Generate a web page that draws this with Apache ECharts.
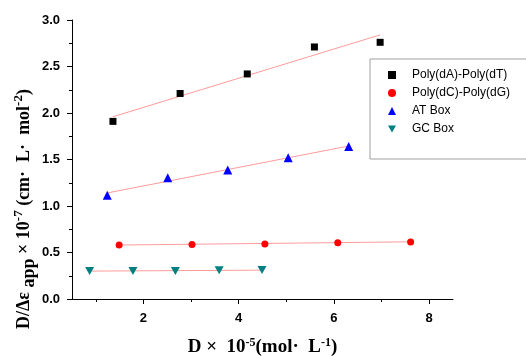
<!DOCTYPE html>
<html><head><meta charset="utf-8">
<script src="https://cdn.jsdelivr.net/npm/echarts@6/dist/echarts.min.js"></script>
<style>html,body{margin:0;padding:0;background:#fff}#c{width:526px;height:356px}</style>
</head><body><div id="c"></div>
<script>
var seriesNames = ['Poly(dA)-Poly(dT)', 'Poly(dC)-Poly(dG)', 'AT Box', 'GC Box'];
var dAdT_x = [1.36, 2.77, 4.18, 5.59, 6.97];
var dAdT_y = [1.91, 2.21, 2.42, 2.71, 2.76];
var dCdG_x = [1.49, 3.02, 4.55, 6.08, 7.61];
var dCdG_y = [0.58, 0.585, 0.592, 0.605, 0.613];
var AT_x = [1.24, 2.51, 3.77, 5.04, 6.31];
var AT_y = [1.115, 1.305, 1.387, 1.52, 1.64];
var GC_x = [0.87, 1.78, 2.67, 3.59, 4.49];
var GC_y = [0.30, 0.30, 0.302, 0.31, 0.313];
// fitted lines (start/end)
var fit_dAdT = [[1.36, 1.96], [6.97, 2.84]];
var fit_dCdG = [[1.49, 0.58], [7.61, 0.615]];
var fit_AT = [[1.24, 1.14], [6.31, 1.645]];
var fit_GC = [[0.87, 0.30], [4.49, 0.31]];
var xTicks = [2, 4, 6, 8];
var xMinorTicks = [1, 3, 5, 7];
var yTicks = [0.0, 0.5, 1.0, 1.5, 2.0, 2.5, 3.0];

function zip(xs, ys) { return xs.map(function (x, i) { return [x, ys[i]]; }); }
var downTri = 'path://M0,0 L10,0 L5,9 Z';
var fitColor = '#ff9a9a';
function fitSeries(d) {
  return { type: 'line', data: d, symbol: 'none', silent: true, z: 1,
    lineStyle: { color: fitColor, width: 1 } };
}
var chart = echarts.init(document.getElementById('c'));
chart.setOption({
  animation: false,
  grid: { left: 72, right: 73, top: 20, bottom: 57, containLabel: false, outerBoundsMode: 'none' },
  xAxis: [{
    type: 'value', min: 0.5, max: 8.5,
    axisLine: { lineStyle: { color: '#000', width: 1 } },
    axisTick: { show: true, inside: false, length: 5, lineStyle: { color: '#000' },
      customValues: xTicks },
    splitLine: { show: false },
    axisLabel: { color: '#000', fontFamily: 'Liberation Sans', fontWeight: 'bold', fontSize: 13,
      margin: 13, customValues: xTicks, formatter: function (v) { return String(v); } },
    name: '{b|D ×  10}{s|-5}{b|(mol·  L}{s|-1}{b|)}',
    nameLocation: 'middle', nameGap: 38,
    nameTextStyle: { rich: {
      b: { fontFamily: 'Liberation Serif', fontWeight: 'bold', fontSize: 19, color: '#000' },
      s: { fontFamily: 'Liberation Serif', fontWeight: 'bold', fontSize: 12, color: '#000', padding: [0, 0, 9, 0] }
    } }
  }, {
    type: 'value', min: 0.5, max: 8.5, position: 'bottom',
    axisLine: { show: false },
    axisTick: { show: true, inside: false, length: 3, lineStyle: { color: '#000' },
      customValues: xMinorTicks },
    axisLabel: { show: false },
    splitLine: { show: false }
  }],
  yAxis: {
    type: 'value', min: 0, max: 3, interval: 0.5,
    axisLine: { show: true, lineStyle: { color: '#000', width: 1 } },
    axisTick: { show: true, inside: false, length: 5, lineStyle: { color: '#000' } },
    minorTick: { show: true, splitNumber: 2, length: 3, lineStyle: { color: '#000' } },
    splitLine: { show: false },
    axisLabel: { color: '#000', fontFamily: 'Liberation Sans', fontWeight: 'bold', fontSize: 13,
      margin: 12, customValues: yTicks, formatter: function (v) { return v.toFixed(1); } }
  },
  legend: {
    data: seriesNames.map(function (n, i) {
      return { name: n, icon: ['rect', 'circle', 'triangle', downTri][i] };
    }),
    orient: 'vertical', left: 370, top: 59,
    itemWidth: 8, itemHeight: 8, itemGap: 6,
    padding: [10, 40, 24, 18],
    borderColor: '#a0a0a0', borderWidth: 1, borderRadius: 0,
    textStyle: { fontFamily: 'Liberation Sans', fontSize: 12, color: '#000', padding: [0, 0, 0, 11] }
  },
  graphic: [{
    type: 'text', x: 24, y: 209, rotation: Math.PI / 2,
    style: {
      text: '{b|D/Δε }{sub|app}{b| × 10}{sup|-7}{b| (cm·  L·  mol}{sup|-2}{b|)}',
      align: 'center', verticalAlign: 'middle',
      rich: {
        b: { fontFamily: 'Liberation Serif', fontWeight: 'bold', fontSize: 18, fill: '#000' },
        sub: { fontFamily: 'Liberation Serif', fontWeight: 'bold', fontSize: 18, fill: '#000', padding: [10, 0, 0, 0] },
        sup: { fontFamily: 'Liberation Serif', fontWeight: 'bold', fontSize: 13, fill: '#000', padding: [0, 0, 10, 0] }
      }
    }
  }],
  series: [
    { name: seriesNames[0], type: 'scatter', data: zip(dAdT_x, dAdT_y), symbol: 'rect', symbolSize: 7, itemStyle: { color: '#000', opacity: 1 }, z: 3 },
    { name: seriesNames[1], type: 'scatter', data: zip(dCdG_x, dCdG_y), symbol: 'circle', symbolSize: 7, itemStyle: { color: '#ff0000', opacity: 1 }, z: 3 },
    { name: seriesNames[2], type: 'scatter', data: zip(AT_x, AT_y), symbol: 'triangle', symbolSize: 9, itemStyle: { color: '#0000ff', opacity: 1 }, z: 3 },
    { name: seriesNames[3], type: 'scatter', data: zip(GC_x, GC_y), symbol: downTri, symbolSize: [9, 8], itemStyle: { color: '#008080', opacity: 1 }, z: 3 },
    fitSeries(fit_dAdT), fitSeries(fit_dCdG), fitSeries(fit_AT), fitSeries(fit_GC)
  ]
});
</script></body></html>
